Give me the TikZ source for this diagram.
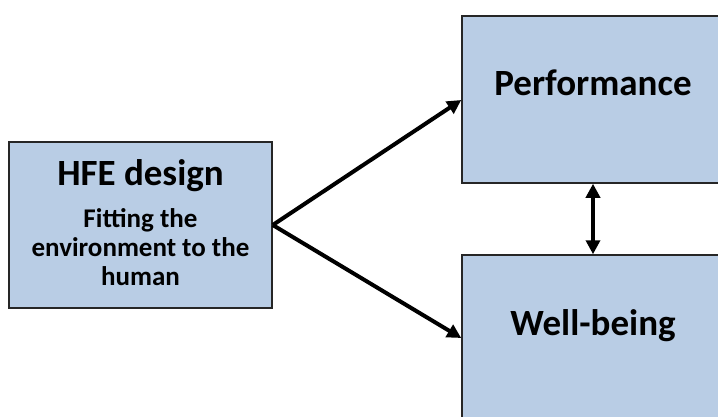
\documentclass[tikz,border=0pt]{standalone}
\usepackage{fontspec}
\setmainfont{Carlito}
\usetikzlibrary{arrows.meta}
\definecolor{boxblue}{RGB}{185,205,229}
\tikzset{
  box/.style={draw=black!85, line width=1.5pt, fill=boxblue, inner sep=0pt},
  big/.style={font=\bfseries\fontsize{37}{42}\selectfont, inner sep=0pt},
  small/.style={font=\bfseries\fontsize{27}{29}\selectfont, inner sep=0pt, align=center},
  conn/.style={line width=4pt, -{Triangle[length=14pt,width=14pt]}},
  dconn/.style={line width=4pt, {Triangle[length=14pt,width=14pt]}-{Triangle[length=14pt,width=14pt]}}
}
\begin{document}
\begin{tikzpicture}[x=1pt,y=1pt]
\useasboundingbox (0,0) rectangle (718,416);
\begin{scope}
\clip (0,0) rectangle (718,416);
\node[box, minimum width=263pt, minimum height=166pt] (hfe) at (140.5,191) {};
\node[box, minimum width=262pt, minimum height=167pt] (perf) at (593,316.5) {};
\node[box, minimum width=262pt, minimum height=171pt] (well) at (593,75.5) {};
\end{scope}
\node[big] (hfet) at (140.5,240) {HFE design};
\node[small] (hfes) at (140.5,169) {Fitting the\\environment to the\\human};
\node[big] (perft) at (593,333) {Performance};
\node[big] (wellt) at (593,90) {Well-being};
\coordinate (src) at (hfe.east);
\draw[conn] (src) -- (perf.west |- 0,316);
\draw[conn] (src) -- (well.west |- 0,78);
\draw[dconn] (perf.south) -- (perf.south |- well.north);
\end{tikzpicture}
\end{document}
